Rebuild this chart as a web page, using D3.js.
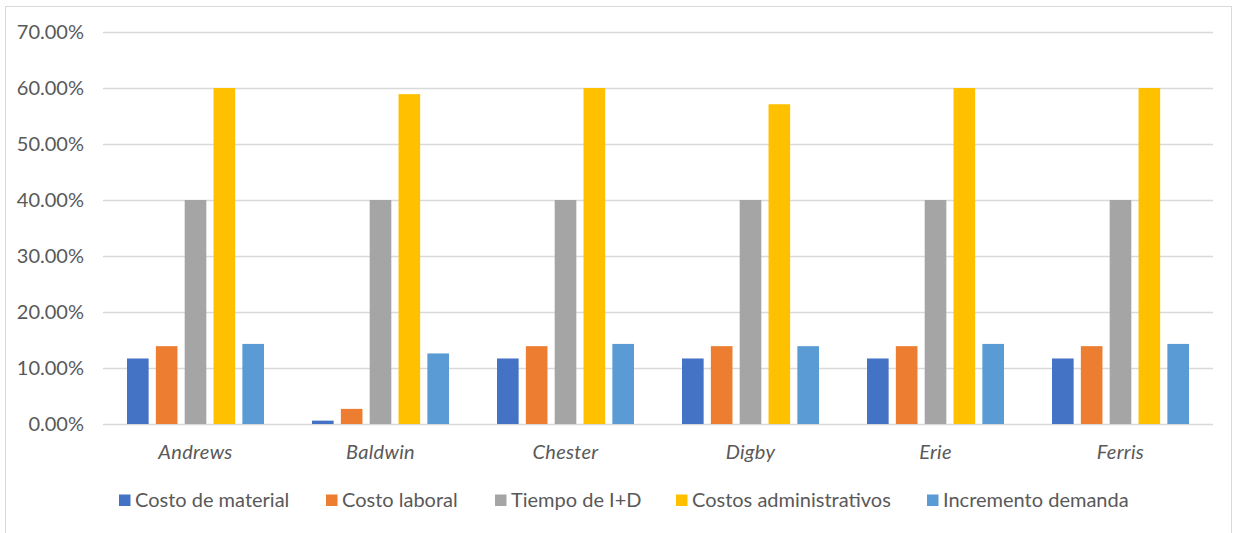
<!DOCTYPE html>
<html>
<head>
<meta charset="utf-8">
<script src="https://cdn.jsdelivr.net/npm/d3@7"></script>
<style>
  html, body { margin: 0; padding: 0; background: #fff; }
  svg text { font-family: Lato, "Liberation Sans", sans-serif; fill: #595959; }
</style>
</head>
<body>
<svg id="chart" width="1234" height="533"></svg>
<script>
// Companies (x categories)
const categories = ["Andrews", "Baldwin", "Chester", "Digby", "Erie", "Ferris"];

// Series names and colours
const seriesNames = ["Costo de material", "Costo laboral", "Tiempo de I+D", "Costos administrativos", "Incremento demanda"];
const seriesColors = ["#4472C4", "#ED7D31", "#A5A5A5", "#FFC000", "#5B9BD5"];

// Values per series, one entry per company (fractions)
const costoMaterial      = [0.117, 0.006, 0.117, 0.117, 0.117, 0.117];
const costoLaboral       = [0.139, 0.027, 0.139, 0.139, 0.139, 0.139];
const tiempoID           = [0.400, 0.400, 0.400, 0.400, 0.400, 0.400];
const costosAdmin        = [0.600, 0.589, 0.600, 0.571, 0.600, 0.600];
const incrementoDemanda  = [0.143, 0.126, 0.143, 0.139, 0.143, 0.143];

// Y axis ticks
const yTicks = [0, 0.1, 0.2, 0.3, 0.4, 0.5, 0.6, 0.7];

const seriesValues = [costoMaterial, costoLaboral, tiempoID, costosAdmin, incrementoDemanda];

const svg = d3.select("#chart");

// Outer chart border
svg.append("rect")
  .attr("x", 5.5).attr("y", 6.5)
  .attr("width", 1226).attr("height", 540)
  .attr("fill", "none").attr("stroke", "#d9d9d9").attr("stroke-width", 1);

const plot = { left: 103, right: 1213, top: 32, bottom: 424 };

const x0 = d3.scaleBand().domain(categories).range([plot.left, plot.right]).padding(0);
const x1 = d3.scaleBand().domain(d3.range(seriesNames.length))
  .range([24, x0.bandwidth() - 24]).paddingInner(0.25).paddingOuter(0);
const y = d3.scaleLinear().domain([0, 0.7]).range([plot.bottom, plot.top]);

// Gridlines
svg.append("g").selectAll("line").data(yTicks).join("line")
  .attr("x1", plot.left).attr("x2", plot.right)
  .attr("y1", d => Math.round(y(d)) + 0.5).attr("y2", d => Math.round(y(d)) + 0.5)
  .attr("stroke", "#d9d9d9").attr("stroke-width", 1.5);

// Y axis labels
const fmt = d3.format(".2%");
svg.append("g").selectAll("text").data(yTicks).join("text")
  .attr("x", 84).attr("y", d => y(d))
  .attr("dy", "0.36em").attr("text-anchor", "end")
  .attr("font-size", 20)
  .text(d => fmt(d));

// Bars
const groups = svg.append("g").selectAll("g").data(categories).join("g")
  .attr("transform", c => `translate(${x0(c)},0)`);

groups.selectAll("rect")
  .data((c, ci) => seriesValues.map((vals, si) => ({ si, v: vals[ci] })))
  .join("rect")
  .attr("x", d => x1(d.si))
  .attr("width", x1.bandwidth())
  .attr("y", d => y(d.v))
  .attr("height", d => y(0) - y(d.v))
  .attr("fill", d => seriesColors[d.si]);

// Category labels
svg.append("g").selectAll("text").data(categories).join("text")
  .attr("x", c => x0(c) + x0.bandwidth() / 2)
  .attr("y", 459)
  .attr("text-anchor", "middle")
  .attr("font-size", 20)
  .attr("font-style", "italic")
  .attr("letter-spacing", 0.3)
  .text(c => c);

// Legend
const legendX = [119, 326, 495, 676, 927];
const legend = svg.append("g").selectAll("g").data(seriesNames).join("g")
  .attr("transform", (d, i) => `translate(${legendX[i]},0)`);
legend.append("rect")
  .attr("x", 0).attr("y", 494.5).attr("width", 11.5).attr("height", 11.5)
  .attr("fill", (d, i) => seriesColors[i]);
legend.append("text")
  .attr("x", 16).attr("y", 506.5)
  .attr("font-size", 20)
  .text(d => d);
</script>
</body>
</html>
